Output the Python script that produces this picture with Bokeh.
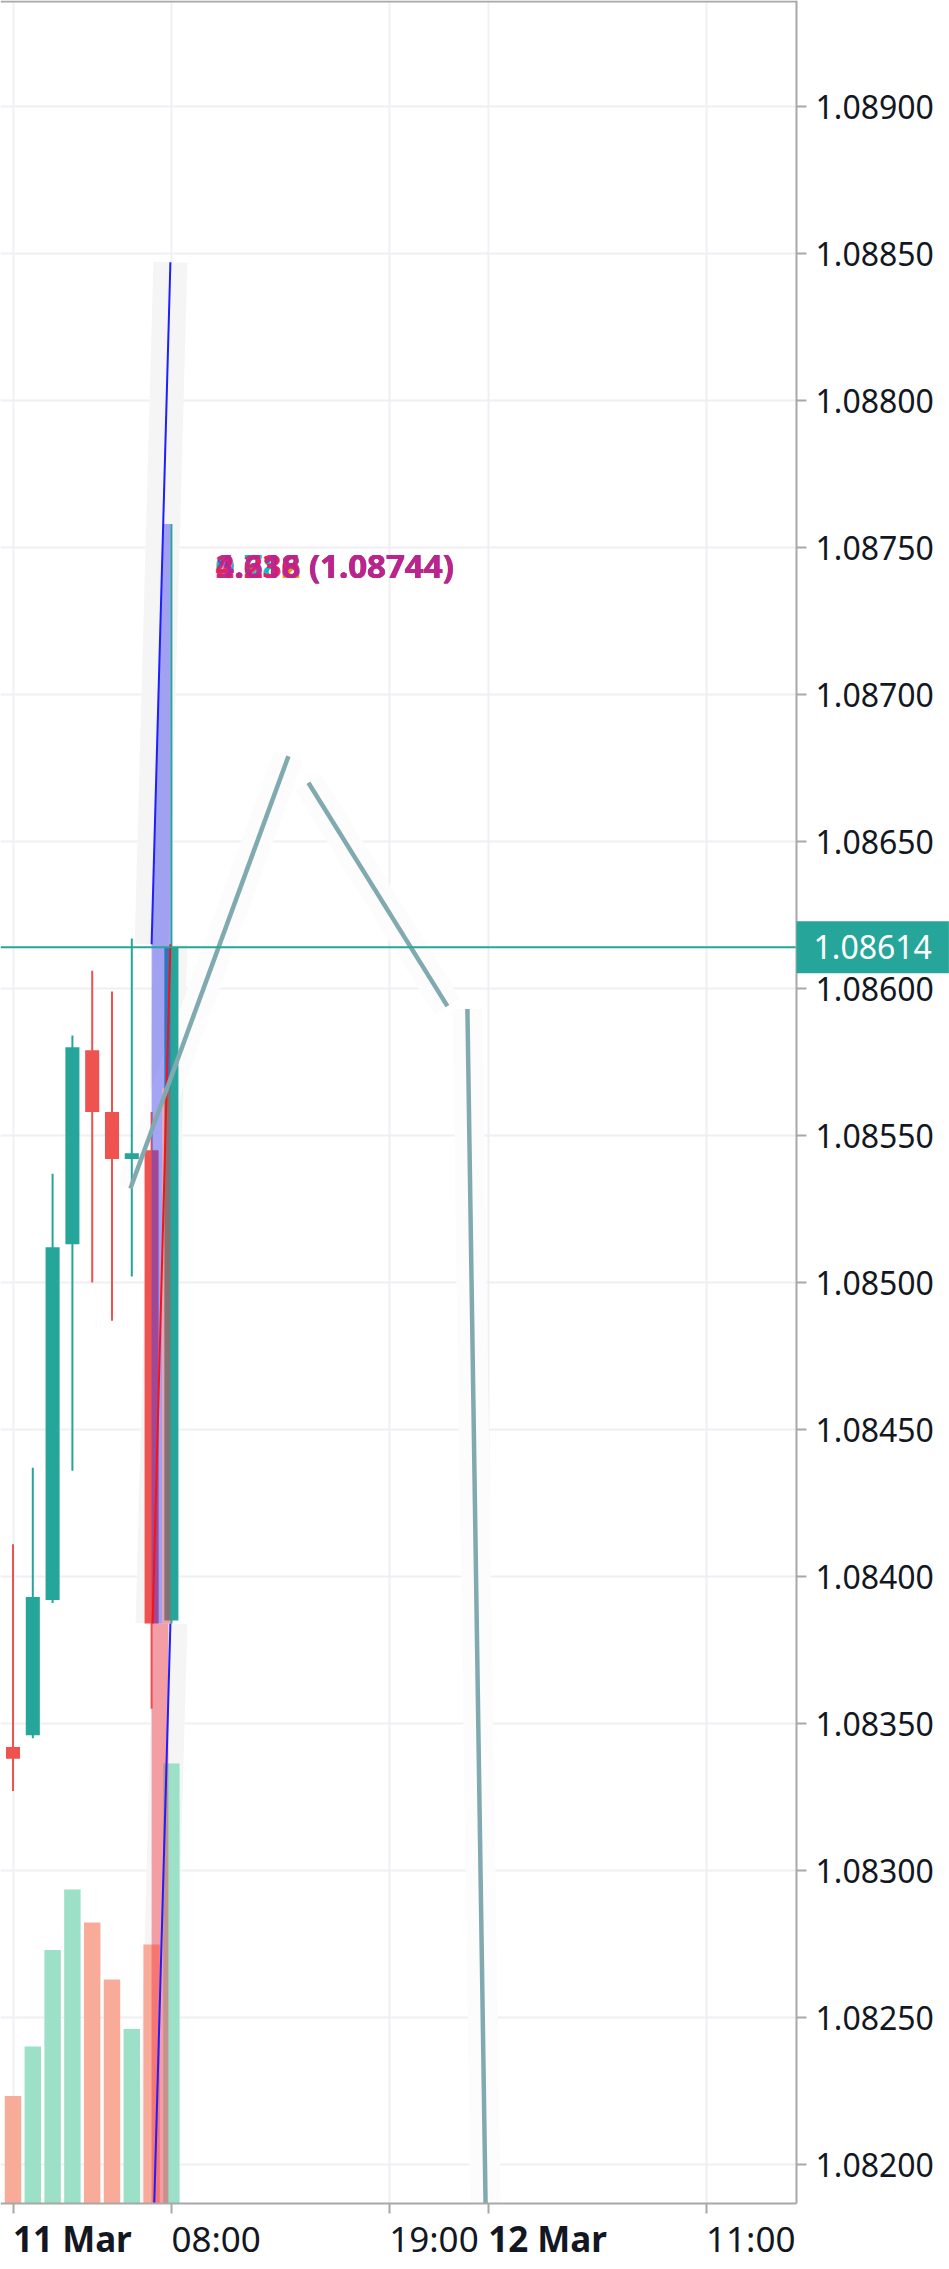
from bokeh.plotting import figure
from bokeh.models import Range1d, FixedTicker, Label, NumeralTickFormatter
from bokeh.embed import file_html
from bokeh.resources import INLINE
from bokeh.core.properties import value

FONT = "Noto Sans"

# ---- hourly candles (hours since 11 Mar 00:00) ----
hours   = [0, 1, 2, 3, 4, 5, 6, 7, 8]
opens   = [1.08342, 1.08346, 1.08392, 1.08513, 1.08579, 1.08558, 1.08542, 1.08545, 1.08385]
highs   = [1.08411, 1.08437, 1.08537, 1.08584, 1.08606, 1.08599, 1.08617, 1.08558, 1.08758]
lows    = [1.08327, 1.08345, 1.08391, 1.08436, 1.08500, 1.08487, 1.08502, 1.08355, 1.08384]
closes  = [1.08338, 1.08393, 1.08512, 1.08580, 1.08558, 1.08542, 1.08544, 1.08384, 1.08614]
volumes = [490, 715, 1155, 1430, 1280, 1020, 795, 1180, 2005]

last_price = 1.08614

# ---- axes ----
x_ticks = [0, 8, 19, 24, 35]
x_tick_labels = ["11 Mar", "08:00", "19:00", "12 Mar", "11:00"]
x_tick_bold = [True, False, False, True, False]
y_ticks = [1.082, 1.0825, 1.083, 1.0835, 1.084, 1.0845, 1.085, 1.0855,
           1.086, 1.0865, 1.087, 1.0875, 1.088, 1.0885, 1.089]

# ---- drawings ----
zig_a_h, zig_a_p = [5.93, 13.91], [1.08532, 1.08679]
zig_b_h, zig_b_p = [14.92, 21.94], [1.08670, 1.08594]
zig_c_h, zig_c_p = [22.95, 23.95], [1.08593, 1.08150]

blue_up_h, blue_up_p = [7.00, 7.95], [1.08615, 1.08847]
red_dn_h, red_dn_p = [7.95, 7.05], [1.08615, 1.08384]
blue_dn_h, blue_dn_p = [7.95, 7.04], [1.08384, 1.08164]

blue_zone_h = [7.59, 7.95, 7.95, 7.55, 7.55, 7.00, 7.00]
blue_zone_p = [1.08758, 1.08758, 1.08566, 1.08566, 1.08384, 1.08384, 1.08615]
red_zone_h = [7.55, 7.95]
red_zone_p = [1.08384, 1.08566]
pink_zone_h = [7.00, 7.85]
pink_zone_p = [1.08150, 1.08384]

fib_h = 10.23
fib_price = 1.08744
fib_levels = ["0.236", "0.382", "0.618", "0.786", "1.618", "2.618", "4.236", "3.618"]
fib_colors = ["#f23645", "#ff9800", "#089981", "#00bcd4", "#2962ff", "#f23645", "#e91e63", "#9c27b0"]
fib_alphas = [1, 1, 1, 1, 1, 1, 1, 0.6]

UP, DOWN = "#26a69a", "#ef5350"
VOL_UP, VOL_DOWN = "#9ce0c8", "#f9ab9a"
AXIS_GREY = "#a8a8a8"

# ---- layout: the frame fills the whole page; axes sit at fixed locations ----
W, H = 949, 2269
AXIS_X_PX, AXIS_Y_PX = 796, 2203        # where the price / time axes are drawn
PX_PER_HOUR, HOUR0_PX = 19.8, 12.5
PRICE_PER_PX, REF_PRICE, REF_PX = 0.0005 / 147, 1.089, 106
VOL_PX_PER_UNIT = 0.2195

def hx(px):
    return (px - HOUR0_PX) / PX_PER_HOUR

def py(px):
    return REF_PRICE - (px - REF_PX) * PRICE_PER_PX

x_start, x_end = hx(0), hx(W)
y_top, y_bot = py(0), py(H)
axis_h, axis_p = hx(AXIS_X_PX), py(AXIS_Y_PX)

p = figure(width=W, height=H,
           x_range=Range1d(x_start, x_end), y_range=Range1d(y_bot, y_top),
           output_backend="svg", toolbar_location=None, y_axis_location="right",
           min_border_left=0, min_border_top=0, min_border_right=0, min_border_bottom=0)
p.extra_y_ranges = {"vol": Range1d(-(H - AXIS_Y_PX) / VOL_PX_PER_UNIT, AXIS_Y_PX / VOL_PX_PER_UNIT)}
p.outline_line_color = None

# grid
p.xgrid.ticker = FixedTicker(ticks=x_ticks)
p.ygrid.ticker = FixedTicker(ticks=y_ticks)
for g in (p.xgrid[0], p.ygrid[0]):
    g.grid_line_color = "#f0f0f4"
    g.grid_line_width = 2

# halos behind drawings (under everything else)
for lx, ly, col, w in [(blue_up_h, blue_up_p, "#f5f5f5", 34),
                       (red_dn_h, red_dn_p, "#f5f5f5", 34),
                       (blue_dn_h, blue_dn_p, "#f5f5f5", 34),
                       (zig_a_h, zig_a_p, "#fcfcfc", 30),
                       (zig_b_h, zig_b_p, "#fcfcfc", 30),
                       (zig_c_h, zig_c_p, "#fcfcfc", 30)]:
    p.line(lx, ly, line_color=col, line_width=w, line_cap="butt")

# volume
vol_colors = [VOL_UP if c >= o else VOL_DOWN for o, c in zip(opens, closes)]
p.vbar(x=hours, width=0.83, top=volumes, bottom=0, y_range_name="vol",
       fill_color=vol_colors, line_color=None)

# candles
cols = [UP if c >= o else DOWN for o, c in zip(opens, closes)]
p.segment(x0=hours, y0=lows, x1=hours, y1=highs, line_color=cols, line_width=2)
p.vbar(x=hours, width=0.71, top=[max(o, c) for o, c in zip(opens, closes)],
       bottom=[min(o, c) for o, c in zip(opens, closes)], fill_color=cols, line_color=None)

# translucent zones
p.patch(blue_zone_h, blue_zone_p, fill_color="#3b3bf0", fill_alpha=0.45, line_color=None)
p.quad(left=red_zone_h[0], right=red_zone_h[1], bottom=red_zone_p[0], top=red_zone_p[1],
       fill_color="#f23645", fill_alpha=0.45, line_color=None)
p.quad(left=pink_zone_h[0], right=pink_zone_h[1], bottom=pink_zone_p[0], top=pink_zone_p[1],
       fill_color="#f23645", fill_alpha=0.45, line_color=None)

# lines
p.line(blue_up_h, blue_up_p, line_color="#1e1eff", line_width=2)
p.line(red_dn_h, red_dn_p, line_color="#ff1010", line_width=2)
p.line(blue_dn_h, blue_dn_p, line_color="#1e1eff", line_width=2)
for lx, ly in [(zig_a_h, zig_a_p), (zig_b_h, zig_b_p), (zig_c_h, zig_c_p)]:
    p.line(lx, ly, line_color="#80aab0", line_width=4.5, line_cap="butt")

# last price line
p.segment(x0=[x_start], y0=[last_price], x1=[axis_h], y1=[last_price],
          line_color="#26a69a", line_width=2)

# overlapping fib labels
n = len(fib_levels)
p.text(x=[fib_h] * n, y=[fib_price] * n,
       text=[f"{lv} ({fib_price:.5f})" for lv in fib_levels],
       text_color=fib_colors, text_alpha=fib_alphas, text_font=value(FONT),
       text_font_size="33px", text_font_style="bold", text_align="left",
       text_baseline="middle")

# white covers for the axis areas (hide grid / marks beyond the axes)
p.quad(left=[axis_h], right=[x_end], bottom=[y_bot], top=[y_top], fill_color="white", line_color=None)
p.quad(left=[x_start], right=[axis_h], bottom=[y_bot], top=[axis_p], fill_color="white", line_color=None)

# top border of the chart pane
p.segment(x0=[x_start], y0=[py(1)], x1=[axis_h], y1=[py(1)], line_color=AXIS_GREY, line_width=2)

# price axis
ya = p.yaxis[0]
ya.fixed_location = axis_h
ya.bounds = (axis_p, y_top)
ya.ticker = FixedTicker(ticks=y_ticks)
ya.formatter = NumeralTickFormatter(format="0.00000")
ya.major_label_text_font = FONT
ya.major_label_text_font_size = "32px"
ya.major_label_text_color = "#131722"
ya.major_tick_out = 10
ya.major_tick_in = 0
ya.minor_tick_out = 0
ya.minor_tick_in = 0
ya.major_label_standoff = 9
ya.axis_line_color = AXIS_GREY
ya.axis_line_width = 2
ya.major_tick_line_color = AXIS_GREY
ya.major_tick_line_width = 2

# time axis
xa = p.xaxis[0]
xa.fixed_location = axis_p
xa.bounds = (x_start, axis_h)
xa.ticker = FixedTicker(ticks=x_ticks)
xa.major_label_overrides = {t: "" for t in x_ticks}
xa.major_tick_out = 10
xa.major_tick_in = 0
xa.minor_tick_out = 0
xa.minor_tick_in = 0
xa.axis_line_color = AXIS_GREY
xa.axis_line_width = 2
xa.major_tick_line_color = AXIS_GREY
xa.major_tick_line_width = 2
label_mid = py(2238)
for t, lab, b in zip(x_ticks, x_tick_labels, x_tick_bold):
    p.add_layout(Label(x=t, y=label_mid, text=lab,
                       text_align="left", text_baseline="middle",
                       text_font=FONT, text_font_size="35px", text_color="#131722",
                       text_font_style="bold" if b else "normal"))

# last price tag on the price axis
p.add_layout(Label(x=axis_h, y=last_price, text=f"{last_price:.5f}", text_align="left",
                   text_baseline="middle", text_font=FONT, text_font_size="32px",
                   text_color="white", background_fill_color="#26a69a",
                   padding=dict(left=17, right=17, top=14, bottom=14)))

open("out.html", "w").write(file_html(p, INLINE))
